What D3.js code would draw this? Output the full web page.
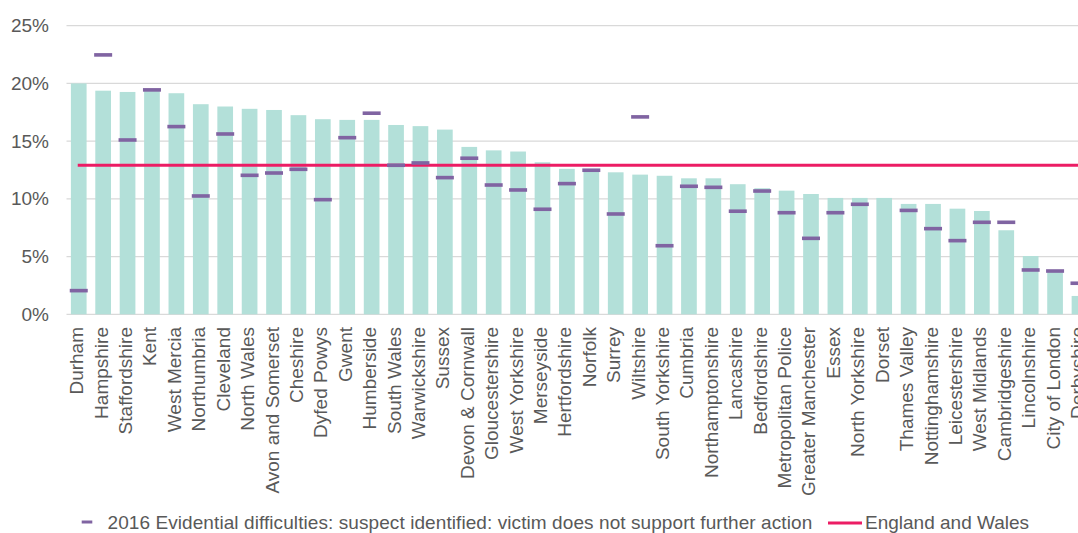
<!DOCTYPE html>
<html><head><meta charset="utf-8">
<script src="https://cdn.jsdelivr.net/npm/d3@7"></script>
<style>
html,body{margin:0;padding:0;background:#fff;overflow:hidden}
svg{display:block;font-family:"Liberation Sans",Arial,sans-serif}
</style></head>
<body><svg id="c" width="1078" height="533"></svg>
<script>
const forces = ["Durham","Hampshire","Staffordshire","Kent","West Mercia","Northumbria","Cleveland","North Wales","Avon and Somerset","Cheshire","Dyfed Powys","Gwent","Humberside","South Wales","Warwickshire","Sussex","Devon & Cornwall","Gloucestershire","West Yorkshire","Merseyside","Hertfordshire","Norfolk","Surrey","Wiltshire","South Yorkshire","Cumbria","Northamptonshire","Lancashire","Bedfordshire","Metropolitan Police","Greater Manchester","Essex","North Yorkshire","Dorset","Thames Valley","Nottinghamshire","Leicestershire","West Midlands","Cambridgeshire","Lincolnshire","City of London","Derbyshire"];
const rate2017 = [20.0,19.37,19.26,19.5,19.15,18.2,18.0,17.8,17.7,17.25,16.9,16.84,16.84,16.4,16.3,16.0,14.5,14.2,14.1,13.17,12.6,12.5,12.3,12.1,12.0,11.78,11.78,11.27,10.92,10.71,10.42,10.08,10.08,10.08,9.56,9.56,9.15,8.95,7.28,5.05,3.67,1.59];
const rate2016 = [2.05,22.47,15.1,19.44,16.26,10.25,15.62,12.04,12.24,12.56,9.93,15.3,17.42,12.91,13.11,11.84,13.52,11.2,10.77,9.1,11.32,12.48,8.69,17.1,5.94,11.09,11.0,8.93,10.68,8.8,6.58,8.8,9.53,null,9.0,7.42,6.38,7.97,7.97,3.84,3.75,2.69];
const englandWales = 12.91;
const yTicks = [0,5,10,15,20,25];
const legendLabels = ["2016 Evidential difficulties: suspect identified: victim does not support further action","England and Wales"];

const svg = d3.select("#c");
const x = d3.scaleBand().domain(forces).range([66.5, 66.5 + 42*24.41]).paddingInner(0.357).paddingOuter(0.18);
const y = d3.scaleLinear().domain([0,25]).range([314.3, 25.7]);
const txt = "#595959";

// gridlines
svg.append("g").selectAll("line").data(yTicks).join("line")
  .attr("x1",66.5).attr("x2",1078)
  .attr("y1",d=>y(d)).attr("y2",d=>y(d))
  .attr("stroke","#D9D9D9").attr("stroke-width",1.2);

// y axis labels
const yAxis = d3.axisLeft(y).tickValues(yTicks).tickFormat(d=>d+"%").tickSize(0).tickPadding(0);
const ya = svg.append("g").attr("transform","translate(49,0)").call(yAxis);
ya.select(".domain").remove();
ya.selectAll("text").attr("fill",txt).style("font-size","19px").style("font-family","'Liberation Sans',Arial,sans-serif");

// bars
svg.append("g").selectAll("rect").data(forces).join("rect")
  .attr("x",d=>x(d)).attr("width",x.bandwidth())
  .attr("y",(d,i)=>y(rate2017[i])).attr("height",(d,i)=>y(0)-y(rate2017[i]))
  .attr("fill","#B3E0D9");

// England and Wales line
svg.append("line")
  .attr("x1",x(forces[0])+x.bandwidth()/2-1).attr("x2",x(forces[forces.length-1])+x.bandwidth()/2)
  .attr("y1",y(englandWales)).attr("y2",y(englandWales))
  .attr("stroke","#EC1C64").attr("stroke-width",3.2);

// 2016 markers
svg.append("g").selectAll("rect").data(forces.map((f,i)=>({f,v:rate2016[i]})).filter(d=>d.v!=null)).join("rect")
  .attr("x",d=>x(d.f)+x.bandwidth()/2-9).attr("width",18)
  .attr("y",d=>y(d.v)-1.8).attr("height",3.6)
  .attr("fill","#8064A2");

// category labels
svg.append("g").selectAll("text").data(forces).join("text")
  .attr("transform",d=>`translate(${x(d)+x.bandwidth()/2+4.5},327) rotate(-90)`)
  .attr("text-anchor","end").attr("fill",txt).style("font-size","19px")
  .text(d=>d);

// legend
const lg = svg.append("g");
lg.append("line").attr("x1",81.7).attr("x2",92.3).attr("y1",522).attr("y2",522).attr("stroke","#8064A2").attr("stroke-width",3);
lg.append("text").attr("x",107.5).attr("y",529).attr("fill",txt).style("font-size","19px").style("letter-spacing","0.08px").text(legendLabels[0]);
lg.append("line").attr("x1",828).attr("x2",862).attr("y1",523).attr("y2",523).attr("stroke","#EC1C64").attr("stroke-width",3);
lg.append("text").attr("x",865).attr("y",529).attr("fill",txt).style("font-size","19px").text(legendLabels[1]);
</script></body></html>
